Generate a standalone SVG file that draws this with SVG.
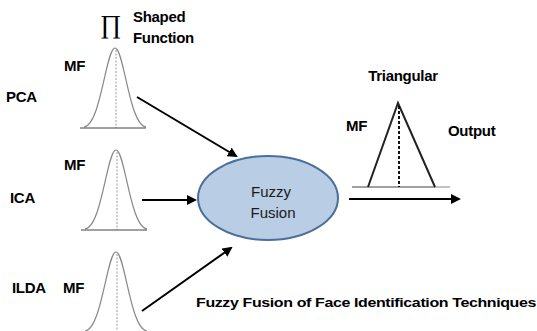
<svg xmlns="http://www.w3.org/2000/svg" width="537" height="331" viewBox="0 0 537 331">
<style>
.lbl{font-family:"Liberation Sans",Arial,sans-serif;font-weight:bold;font-size:15px;fill:#000;letter-spacing:-0.3px}
.nrm{font-family:"Liberation Sans",Arial,sans-serif;font-size:15px;fill:#1a1a1a}
.conn{stroke:#000;stroke-width:2;fill:none}
.gauss{stroke:#888;stroke-width:1.2;fill:none}
.base{stroke:#444;stroke-width:1}
.mid{stroke:#999;stroke-width:1;stroke-dasharray:2,1.5}
</style>
<defs>
<marker id="ah" viewBox="0 0 10 10" refX="8" refY="5" markerWidth="5" markerHeight="5" orient="auto" markerUnits="strokeWidth">
<path d="M0,0 L10,5 L0,10 z" fill="#000"/>
</marker>
<g id="bell">
<path class="gauss" d="M84,127 C101,125 106,48 115,48 C124,48 129,125 146,127"/>
<line class="mid" x1="116" y1="50" x2="116" y2="128"/>
<line class="base" x1="80" y1="128" x2="146" y2="128"/>
</g>
</defs>
<g id="pi-title">
<text x="100" y="33" style="font-family:'Liberation Serif',serif;font-size:26px;fill:#000">∏</text>
<text class="lbl" x="133" y="22">Shaped</text>
<text class="lbl" x="133" y="43">Function</text>
</g>
<g id="pca">
<text class="lbl" x="6" y="102">PCA</text>
<text class="lbl" x="64" y="71">MF</text>
<use href="#bell"/>
</g>
<g id="ica">
<text class="lbl" x="10" y="203">ICA</text>
<text class="lbl" x="64" y="170">MF</text>
<use href="#bell" transform="translate(1,102)"/>
</g>
<g id="ilda">
<text class="lbl" x="12" y="293">ILDA</text>
<text class="lbl" x="63" y="293">MF</text>
<use href="#bell" transform="translate(1,204)"/>
</g>
<g id="fusion">
<ellipse cx="268" cy="198" rx="70" ry="42" fill="#b9cde5" stroke="#4a6f9c" stroke-width="2"/>
<text class="nrm" x="271" y="197" text-anchor="middle">Fuzzy</text>
<text class="nrm" x="273" y="218" text-anchor="middle">Fusion</text>
</g>
<g id="output">
<text class="lbl" x="403" y="81" text-anchor="middle">Triangular</text>
<text class="lbl" x="346" y="131">MF</text>
<text class="lbl" x="448" y="136">Output</text>
<line x1="352" y1="187" x2="435" y2="187" stroke="#444" stroke-width="1.2"/>
<line x1="435" y1="187" x2="450" y2="187" stroke="#999" stroke-width="1.2"/>
<path d="M368,187 L398,103 L435,187" stroke="#222" stroke-width="2" fill="none"/>
<line x1="399" y1="106" x2="399" y2="187" stroke="#111" stroke-width="2" stroke-dasharray="3,2"/>
</g>
<g id="caption">
<text class="lbl" x="196" y="307" style="font-size:13px" textLength="340" lengthAdjust="spacingAndGlyphs">Fuzzy Fusion of Face Identification Techniques</text>
</g>
<g id="connectors">
<line class="conn" x1="137" y1="97" x2="236" y2="156" marker-end="url(#ah)"/>
<line class="conn" x1="142" y1="200" x2="195" y2="200" marker-end="url(#ah)"/>
<line class="conn" x1="142" y1="311" x2="231" y2="248" marker-end="url(#ah)"/>
<line class="conn" x1="349" y1="199" x2="459" y2="199" marker-end="url(#ah)"/>
</g>
</svg>
